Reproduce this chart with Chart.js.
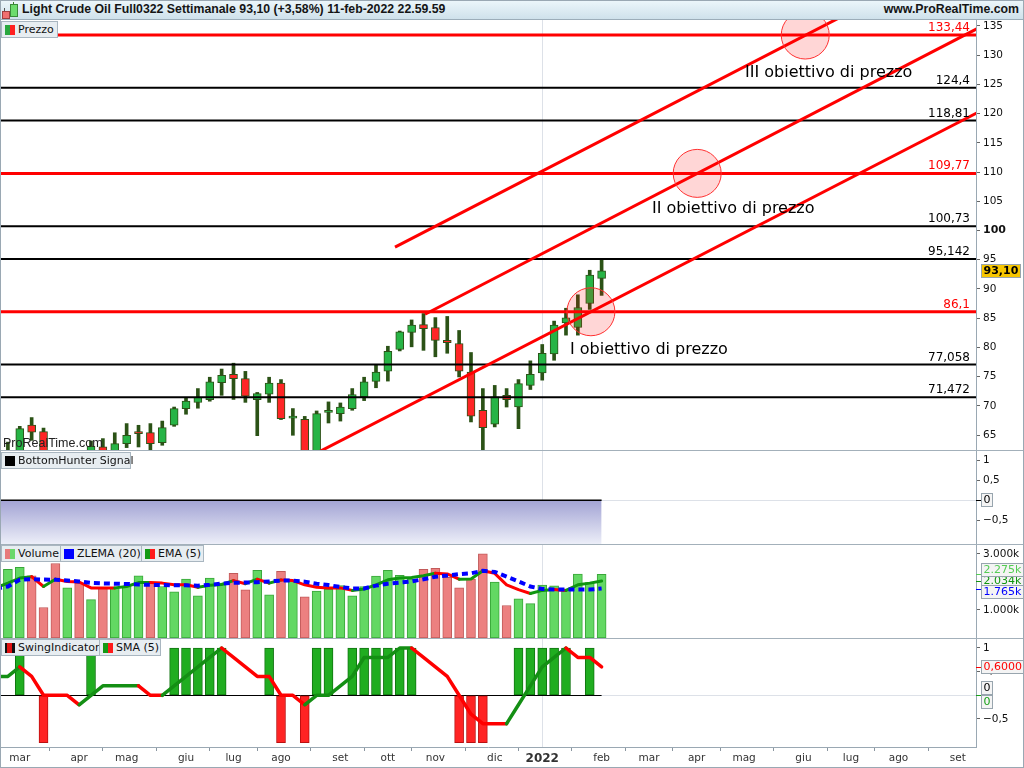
<!DOCTYPE html>
<html>
<head>
<meta charset="utf-8">
<script src="https://cdn.jsdelivr.net/npm/chart.js@4.4.1/dist/chart.umd.min.js"></script>
<style>
html,body{margin:0;padding:0;background:#fff;}
#wrap{position:relative;width:1024px;height:768px;overflow:hidden;font-family:"DejaVu Sans",sans-serif;color:#111;}
#wrap canvas{position:absolute;left:0;}
.hdr{position:absolute;left:0;top:0;width:1024px;height:20px;background:linear-gradient(#edf7fb,#cfe1eb);border-bottom:1px solid #9cadb9;box-sizing:border-box;}
.title{position:absolute;left:22px;top:2px;font-family:"Liberation Sans",sans-serif;font-weight:bold;font-size:12.3px;white-space:nowrap;color:#151515;}
.site{position:absolute;right:5px;top:2px;font-family:"Liberation Sans",sans-serif;font-weight:bold;font-size:12.3px;white-space:nowrap;color:#151515;}
.leg{position:absolute;height:17px;box-sizing:border-box;background:#e7edf1;border:1px solid #a9b6c0;font-size:11px;line-height:15px;white-space:nowrap;padding-left:16px;}
.ico{position:absolute;left:3px;top:3px;width:10px;height:10px;box-sizing:border-box;}
.sep{position:absolute;left:0;width:1024px;height:1px;background:#a3b0ba;}
.wm{position:absolute;left:3px;top:436px;font-family:"Liberation Sans",sans-serif;font-size:12.5px;color:#222;}
.frame{position:absolute;left:0;top:0;width:1024px;height:768px;box-sizing:border-box;border:1px solid #9aa8b3;pointer-events:none;}
</style>
</head>
<body>
<div id="wrap">
  <canvas id="cP" width="1024" height="431" style="top:20px"></canvas>
  <canvas id="cB" width="1024" height="93" style="top:451px"></canvas>
  <canvas id="cV" width="1024" height="94" style="top:544px"></canvas>
  <canvas id="cS" width="1024" height="130" style="top:638px"></canvas>

  <div class="hdr">
    <div style="position:absolute;left:4px;top:8px;width:1px;height:11px;background:#555"></div>
    <div style="position:absolute;left:2px;top:11px;width:6px;height:6px;background:#f07070;border:1px solid #a04040"></div>
    <div style="position:absolute;left:13px;top:2px;width:1px;height:15px;background:#3a7a2a"></div>
    <div style="position:absolute;left:10px;top:4px;width:6px;height:11px;background:#6ddc6d;border:1px solid #3a8a3a"></div>
    <div class="title">Light Crude Oil Full0322 Settimanale 93,10 (+3,58%) 11-feb-2022 22.59.59</div>
    <div class="site">www.ProRealTime.com</div>
  </div>

  <div class="sep" style="top:450px"></div>
  <div class="sep" style="top:544px"></div>
  <div class="sep" style="top:638px"></div>

  <div class="leg" style="left:1px;top:21px;width:57px;"><div class="ico" style="background:linear-gradient(90deg,#2aa83f 50%,#ff2020 50%);"></div>Prezzo</div>
  <div class="leg" style="left:1px;top:452px;width:130px;"><div class="ico" style="background:#000;"></div>BottomHunter Signal</div>
  <div class="leg" style="left:1px;top:545px;width:60px;"><div class="ico" style="background:linear-gradient(90deg,#e77b7b 50%,#6bd86b 50%);"></div>Volume</div>
  <div class="leg" style="left:60px;top:545px;width:82px;"><div class="ico" style="background:#0000ff;"></div>ZLEMA (20)</div>
  <div class="leg" style="left:141px;top:545px;width:63px;"><div class="ico" style="background:linear-gradient(90deg,#139a13 50%,#ff1a1a 50%);"></div>EMA (5)</div>
  <div class="leg" style="left:1px;top:639px;width:99px;"><div class="ico" style="background:linear-gradient(90deg,#111 25%,#e01010 25%,#e01010 75%,#111 75%);"></div>SwingIndicator</div>
  <div class="leg" style="left:99px;top:639px;width:62px;"><div class="ico" style="background:linear-gradient(90deg,#139a13 50%,#ff1a1a 50%);"></div>SMA (5)</div>

  <div class="wm">ProRealTime.com</div>
  <div class="frame"></div>
</div>

<script>
// ---------- DATA ----------
const weeks = ['2021-02-15','2021-02-22','2021-03-01','2021-03-08','2021-03-15','2021-03-22','2021-03-29',
 '2021-04-05','2021-04-12','2021-04-19','2021-04-26','2021-05-03','2021-05-10','2021-05-17','2021-05-24','2021-05-31',
 '2021-06-07','2021-06-14','2021-06-21','2021-06-28','2021-07-05','2021-07-12','2021-07-19','2021-07-26',
 '2021-08-02','2021-08-09','2021-08-16','2021-08-23','2021-08-30','2021-09-06','2021-09-13','2021-09-20','2021-09-27',
 '2021-10-04','2021-10-11','2021-10-18','2021-10-25','2021-11-01','2021-11-08','2021-11-15','2021-11-22','2021-11-29',
 '2021-12-06','2021-12-13','2021-12-20','2021-12-27','2022-01-03','2022-01-10','2022-01-17','2022-01-24','2022-01-31','2022-02-07'];

const openP  = [59.5,59.3,61.6,66.7,65.6,61.4,60.9,61.4,59.4,63.0,62.0,63.55,65.6,65.43,63.72,66.68,69.54,70.57,71.08,73.99,75.4,74.67,71.08,72.0,73.92,67.9,67.7,62.2,68.9,68.68,69.54,71.53,74.2,75.93,79.64,82.55,83.9,83.4,81.2,80.67,75.8,69.25,66.86,71.82,69.8,73.5,75.63,78.9,84.2,83.4,87.51,91.8];
const highP  = [62.3,63.8,66.5,68.0,66.2,62.0,62.3,61.9,64.0,64.4,65.4,66.97,66.68,66.97,67.4,69.8,71.42,72.96,74.9,76.3,77.3,75.9,72.3,74.9,74.5,69.54,68.2,69.13,70.68,70.5,72.96,74.9,77.1,80.2,82.8,84.7,85.8,85.1,85.3,82.9,79.13,72.96,73.5,72.96,74.5,77.7,80.5,84.5,86.7,89.0,93.2,95.0];
const lowP   = [58.6,58.7,59.6,64.1,59.8,57.3,58.9,57.6,59.2,61.2,61.6,62.86,62.97,62.4,63.26,66.5,68.57,69.6,70.8,71.8,71.1,70.6,64.9,70.6,67.66,64.97,61.7,61.9,67.07,67.4,69.25,70.9,73.1,74.24,79.4,80.1,79.5,78.4,79.0,74.95,67.25,62.4,66.4,69.8,66.1,72.8,74.4,77.8,82.1,82.1,86.5,88.9];
const closeP = [59.2,61.5,66.1,65.5,61.4,61.0,61.45,59.3,63.1,62.1,63.55,64.97,65.26,63.55,66.29,69.54,70.84,71.47,74.1,75.24,74.67,71.65,72.1,73.92,67.83,68.0,62.3,68.68,69.2,69.8,71.94,74.1,75.8,79.35,82.65,83.8,83.2,81.2,80.8,75.93,68.22,66.29,71.53,71.08,73.8,75.4,79.0,83.8,85.05,86.83,92.36,93.1];

// volume in thousands (k)
const volume = [2000,2450,2520,2220,1090,2660,1790,1960,1370,1790,1790,1840,2220,1960,1840,1650,2100,1510,2140,1960,2310,1720,2420,1540,2380,2020,1470,1680,1750,1870,1510,1840,2210,2420,2240,2100,2450,2490,2170,1790,2100,3010,2000,1160,1400,1230,1890,1860,1750,2280,1980,2275];
const volumeDir = [-1,1,1,-1,-1,-1,1,-1,1,-1,1,1,1,-1,1,1,1,1,1,1,-1,-1,1,1,-1,1,-1,1,1,1,1,1,1,1,1,1,-1,-1,-1,-1,-1,-1,1,-1,1,1,1,1,1,1,1,1];
const ema5  = [1800,1960,2140,2190,1840,2100,2020,2000,1790,1790,1790,1840,1980,1980,1960,1900,1900,1810,1880,1910,2050,1940,2100,1960,2070,2050,1900,1810,1790,1790,1700,1750,1900,2080,2140,2160,2220,2310,2290,2100,2110,2400,2310,1900,1730,1590,1700,1730,1700,1900,1960,2034];
const zlema20 = [1760,1840,2080,2100,2090,2080,2050,2020,1970,1950,1940,1930,1910,1900,1890,1880,1880,1870,1900,1940,1970,1980,1990,2020,2050,2050,2010,1940,1890,1820,1770,1770,1870,1940,1980,2020,2100,2190,2230,2280,2310,2400,2360,2190,2020,1840,1750,1730,1730,1730,1730,1765];

const bottomHunter = [0,0,0,0,0,0,0,0,0,0,0,0,0,0,0,0,0,0,0,0,0,0,0,0,0,0,0,0,0,0,0,0,0,0,0,0,0,0,0,0,0,0,0,0,0,0,0,0,0,0,0,0];

const swing    = [0,0,1,0,-1,0,0,0,1,0,0,0,0,0,0,1,1,1,1,1,0,0,0,1,-1,0,-1,1,1,0,1,1,1,1,1,1,0,0,0,-1,-1,-1,0,0,1,1,1,1,1,0,1,0];
const swingSma = [0.4,0.4,0.6,0.4,0,0,0,-0.2,0,0.2,0.2,0.2,0.2,0,0,0.2,0.4,0.6,0.8,1.0,0.8,0.6,0.4,0.4,0,0,-0.2,0,0,0.2,0.4,0.8,0.8,0.8,1.0,1.0,0.8,0.6,0.4,0,-0.4,-0.6,-0.6,-0.6,-0.2,0.2,0.6,0.8,1.0,0.8,0.8,0.6];

const monthTickDates  = ['2021-03-01','2021-04-05','2021-05-03','2021-06-07','2021-07-05','2021-08-02','2021-09-06','2021-10-04','2021-11-01','2021-12-06','2022-01-03','2022-02-07','2022-03-07','2022-04-04','2022-05-02','2022-06-06','2022-07-04','2022-08-01','2022-09-05'];
const monthTickLabels = ['mar','apr','mag','giu','lug','ago','set','ott','nov','dic','2022','feb','mar','apr','mag','giu','lug','ago','set'];
const yearSeparator = '2022-01-03';

const priceTicks = [65,70,75,80,85,90,95,100,105,110,115,120,125,130,135];
const levelValues = [133.44,124.4,118.81,109.77,100.73,95.142,86.1,77.058,71.472];
const levelLabels = ['133,44','124,4','118,81','109,77','100,73','95,142','86,1','77,058','71,472'];
const levelIsTarget = [true,false,false,true,false,false,true,false,false];

// trend channel lines: [weekIndex, price] pairs
const trendLines = [
  [[33.6, 97.15],[71.5, 136.9]],
  [[36.13, 85.68],[82.6, 134.5]],
  [[26.5, 61.4],[82.6, 120.1]]
];
// price targets: circle centres [weekIndex, price] and captions
const targetCircles = [[50.1, 86.1],[59.05, 109.77],[68.15, 133.44]];
const targetTexts = [
  {w:48.34, p:79.5, t:'I obiettivo di prezzo'},
  {w:55.24, p:103.66, t:'II obiettivo di prezzo'},
  {w:63.08, p:126.94, t:'III obiettivo di prezzo'}
];

// ---------- HELPERS ----------
const DAY = 864e5;
const t0 = Date.parse(weeks[0]);
const dateX = d => (Date.parse(d) - t0) / (7*DAY);
const X_MIN = 0.335, X_MAX = 82.53;
const FONT = '"DejaVu Sans", sans-serif';
Chart.defaults.font.family = FONT;
Chart.defaults.font.size = 10.5;
Chart.defaults.color = '#111';
const last = weeks.length - 1;
const fmtComma = (v, d) => v.toFixed(d).replace('.', ',');
const fmtK = v => { const s = String(Math.round(v)); return (s.length > 3 ? s.slice(0,-3) + '.' + s.slice(-3) : s) + 'k'; };
const fmtTick = v => String(v).replace('.', ',').replace('-', '\u2212');

function trendColors(vals, up, down) {
  const cols = []; let cur = up;
  for (let i = 0; i < vals.length - 1; i++) {
    if (vals[i+1] > vals[i] + 1e-9) cur = up; else if (vals[i+1] < vals[i] - 1e-9) cur = down;
    cols.push(cur);
  }
  return cols;
}

function xAxis(show) {
  return {
    type: 'linear', min: X_MIN, max: X_MAX, offset: false, display: show,
    grid: {display: true, drawOnChartArea: false, drawTicks: true, tickLength: 4, color: '#8a96a0'},
    border: {display: true, color: '#9aa8b3'},
    afterBuildTicks: s => { s.ticks = monthTickDates.map(d => ({value: dateX(d)})); },
    ticks: {
      autoSkip: false, maxRotation: 0, minRotation: 0, padding: 1, color: '#333',
      callback: (v, i) => monthTickLabels[i],
      font: c => (monthTickLabels[c.index] === '2022') ? {size: 12, weight: 'bold', family: FONT} : {size: 10.5, family: FONT}
    },
    afterFit: s => { s.height = show ? 21 : 0; s.paddingLeft = 0; s.paddingRight = 0; }
  };
}

function yAxis(min, max, tickVals, fmt, fontFn) {
  return {
    position: 'right', min, max,
    grid: {display: true, drawOnChartArea: false, drawTicks: true, tickLength: 4, color: '#666'},
    border: {display: true, color: '#9aa8b3'},
    afterBuildTicks: s => { s.ticks = tickVals.map(v => ({value: v})); },
    ticks: {padding: 3, color: '#111', callback: v => fmt(v), font: fontFn || {size: 10.5, family: FONT}},
    afterFit: s => { s.width = 48; s.paddingTop = 0; s.paddingBottom = 0; }
  };
}

function baseOptions(xShow, yCfg) {
  return {
    responsive: false, maintainAspectRatio: false, animation: false, devicePixelRatio: 1,
    layout: {padding: 0},
    plugins: {legend: {display: false}, tooltip: {enabled: false}},
    scales: {x: xAxis(xShow), y: yCfg}
  };
}

function drawBox(ctx, x, yc, text, color, bg, bold) {
  ctx.save();
  ctx.font = (bold ? 'bold ' : '') + '11px ' + FONT;
  const w = Math.ceil(ctx.measureText(text).width) + 5;
  ctx.fillStyle = bg; ctx.fillRect(x, yc - 7, w, 14);
  ctx.strokeStyle = '#98a5ae'; ctx.lineWidth = 1; ctx.strokeRect(x + 0.5, yc - 6.5, w - 1, 13);
  ctx.fillStyle = color; ctx.textBaseline = 'middle'; ctx.textAlign = 'left';
  ctx.fillText(text, x + 2.5, yc + 0.5);
  ctx.restore();
}

function sepLines(chart, zeroGray) {
  const {ctx, chartArea: a, scales: {x, y}} = chart;
  ctx.save();
  ctx.strokeStyle = '#dde1e8'; ctx.lineWidth = 1;
  const sx = Math.round(x.getPixelForValue(dateX(yearSeparator))) + 0.5;
  ctx.beginPath(); ctx.moveTo(sx, a.top); ctx.lineTo(sx, a.bottom); ctx.stroke();
  if (zeroGray) {
    const zy = Math.round(y.getPixelForValue(0)) + 0.5;
    ctx.beginPath(); ctx.moveTo(a.left, zy); ctx.lineTo(a.right, zy); ctx.stroke();
  }
  ctx.restore();
}

function boxesPlugin(id, listFn) {
  return {
    id,
    afterDraw(chart) {
      const {ctx, chartArea: a, scales: {y}} = chart;
      listFn().forEach(b => {
        const yc = Math.round(y.getPixelForValue(b.v)) + (b.dy || 0);
        if (b.tick) {
          ctx.save(); ctx.strokeStyle = b.tick; ctx.lineWidth = 1;
          const ty = Math.round(y.getPixelForValue(b.v)) + 0.5;
          ctx.beginPath(); ctx.moveTo(a.right, ty); ctx.lineTo(a.right + 5, ty); ctx.stroke(); ctx.restore();
        }
        drawBox(ctx, a.right + 5, yc, b.text, b.color, b.bg || '#f4f4f4', b.bold);
      });
    }
  };
}

// ---------- PRICE ----------
const priceDecor = {
  id: 'priceDecor',
  beforeDatasetsDraw(chart) { sepLines(chart, false); },
  afterDatasetsDraw(chart) {
    const {ctx, chartArea: a, scales: {x, y}} = chart;
    ctx.save();
    ctx.beginPath(); ctx.rect(a.left, a.top, a.right - a.left, a.bottom - a.top); ctx.clip();
    levelValues.forEach((v, i) => {
      const py = y.getPixelForValue(v);
      ctx.strokeStyle = levelIsTarget[i] ? '#ff0000' : '#000000';
      ctx.lineWidth = levelIsTarget[i] ? 3 : 2;
      ctx.beginPath(); ctx.moveTo(a.left, py); ctx.lineTo(a.right, py); ctx.stroke();
    });
    ctx.strokeStyle = '#ff0000'; ctx.lineWidth = 3; ctx.lineCap = 'butt';
    trendLines.forEach(([p, q]) => {
      ctx.beginPath();
      ctx.moveTo(x.getPixelForValue(p[0]), y.getPixelForValue(p[1]));
      ctx.lineTo(x.getPixelForValue(q[0]), y.getPixelForValue(q[1]));
      ctx.stroke();
    });
    targetCircles.forEach(c => {
      ctx.beginPath();
      ctx.arc(x.getPixelForValue(c[0]), y.getPixelForValue(c[1]), 24, 0, Math.PI * 2);
      ctx.fillStyle = 'rgba(255,0,0,0.16)'; ctx.fill();
      ctx.strokeStyle = '#ff3030'; ctx.lineWidth = 1; ctx.stroke();
    });
    ctx.font = '16px ' + FONT; ctx.fillStyle = '#000'; ctx.textBaseline = 'middle'; ctx.textAlign = 'left';
    targetTexts.forEach(t => ctx.fillText(t.t, x.getPixelForValue(t.w), y.getPixelForValue(t.p)));
    ctx.font = '12px ' + FONT; ctx.textAlign = 'right'; ctx.textBaseline = 'alphabetic';
    levelValues.forEach((v, i) => {
      ctx.fillStyle = levelIsTarget[i] ? '#ff0000' : '#000';
      ctx.fillText(levelLabels[i], a.right - 6, y.getPixelForValue(v) - 4);
    });
    ctx.restore();
  }
};

new Chart(document.getElementById('cP'), {
  type: 'bar',
  data: {datasets: [
    {label: 'wick', data: weeks.map((w, i) => ({x: i, y: [lowP[i], highP[i]]})),
     backgroundColor: '#2b5216', barThickness: 3, grouped: false, order: 2},
    {label: 'Prezzo', data: weeks.map((w, i) => ({x: i, y: [openP[i], closeP[i]]})),
     backgroundColor: c => closeP[c.dataIndex] >= openP[c.dataIndex] ? '#27b446' : '#ff2626',
     borderColor: '#2b5216', borderWidth: 1, borderSkipped: false, barThickness: 8, minBarLength: 2, grouped: false, order: 1}
  ]},
  options: baseOptions(false, yAxis(62.28, 136.01, priceTicks, v => String(v),
    c => (c.tick && c.tick.value === 100) ? {size: 11, weight: 'bold', family: FONT} : {size: 10.5, family: FONT})),
  plugins: [priceDecor, boxesPlugin('pBox', () => [
    {v: closeP[last], text: fmtComma(closeP[last], 2), color: '#000', bg: '#f7c600', bold: true}
  ])]
});

// ---------- BOTTOM HUNTER ----------
new Chart(document.getElementById('cB'), {
  type: 'line',
  data: {datasets: [{
    label: 'BottomHunter Signal', data: weeks.map((w, i) => ({x: i, y: bottomHunter[i]})),
    borderColor: '#000', borderWidth: 1.5, pointRadius: 0, fill: 'start',
    backgroundColor: c => {
      const ch = c.chart, a = ch.chartArea; if (!a) return '#b8b8e0';
      const y0 = ch.scales.y.getPixelForValue(0);
      const g = ch.ctx.createLinearGradient(0, y0, 0, a.bottom);
      g.addColorStop(0, '#a2a3d4'); g.addColorStop(1, '#eceef8'); return g;
    }
  }]},
  options: baseOptions(false, yAxis(-1.0925, 1.2325, [1, 0.5, 0, -0.5], fmtTick)),
  plugins: [{id: 'bSep', beforeDatasetsDraw: ch => sepLines(ch, true)},
    boxesPlugin('bBox', () => [{v: bottomHunter[last], text: fmtTick(bottomHunter[last]), color: '#000', tick: '#000'}])]
});

// ---------- VOLUME ----------
const emaCols = trendColors(ema5, '#0f960f', '#ff0000');
new Chart(document.getElementById('cV'), {
  type: 'bar',
  data: {datasets: [
    {type: 'line', label: 'ZLEMA (20)', data: weeks.map((w, i) => ({x: i, y: zlema20[i]})),
     borderColor: '#0000ff', borderWidth: 4, borderDash: [6, 4], pointRadius: 0, order: 1},
    {type: 'line', label: 'EMA (5)', data: weeks.map((w, i) => ({x: i, y: ema5[i]})),
     borderWidth: 3, pointRadius: 0, borderJoinStyle: 'round', borderCapStyle: 'round',
     segment: {borderColor: c => emaCols[c.p0DataIndex]}, borderColor: '#0f960f', order: 2},
    {label: 'Volume', data: weeks.map((w, i) => ({x: i, y: volume[i]})),
     backgroundColor: c => volumeDir[c.dataIndex] > 0 ? '#63d863' : '#ec8080',
     borderColor: c => volumeDir[c.dataIndex] > 0 ? '#39a639' : '#c25a5a',
     borderWidth: 1, borderSkipped: false, barThickness: 9, grouped: false, order: 3}
  ]},
  options: baseOptions(false, yAxis(0, 3357, [1000, 3000], fmtK)),
  plugins: [{id: 'vSep', beforeDatasetsDraw: ch => sepLines(ch, false)},
    boxesPlugin('vBox', () => [
      {v: ema5[last], text: fmtK(ema5[last]), color: '#0f960f', tick: '#0f960f'},
      {v: volume[last], text: fmtK(volume[last]), color: '#55cc55', tick: '#55cc55', dy: -4},
      {v: zlema20[last], text: fmtK(zlema20[last]), color: '#0000ff', tick: '#0000ff', dy: 3}
    ])]
});

// ---------- SWING ----------
const smaCols = trendColors(swingSma, '#148f14', '#ff0000');
const swingZeroLine = {
  id: 'swingZero',
  beforeDatasetsDraw(chart) {
    sepLines(chart, true);
    const {ctx, scales: {x, y}} = chart;
    const zy = Math.round(y.getPixelForValue(0)) + 0.5;
    ctx.save(); ctx.strokeStyle = '#000'; ctx.lineWidth = 1;
    ctx.beginPath(); ctx.moveTo(Math.max(chart.chartArea.left, x.getPixelForValue(0)), zy);
    ctx.lineTo(x.getPixelForValue(last), zy); ctx.stroke(); ctx.restore();
  }
};
new Chart(document.getElementById('cS'), {
  type: 'bar',
  data: {datasets: [
    {type: 'line', label: 'SMA (5)', data: weeks.map((w, i) => ({x: i, y: swingSma[i]})),
     borderWidth: 3.5, pointRadius: 0, borderJoinStyle: 'round', borderCapStyle: 'round',
     segment: {borderColor: c => smaCols[c.p0DataIndex]}, borderColor: '#148f14', order: 1},
    {label: 'SwingIndicator', data: weeks.map((w, i) => ({x: i, y: swing[i]})),
     backgroundColor: c => swing[c.dataIndex] > 0 ? '#20ad20' : '#ff2424',
     borderColor: c => swing[c.dataIndex] > 0 ? '#117511' : '#bb1010',
     borderWidth: 1, borderSkipped: false, barThickness: 9, grouped: false, order: 2}
  ]},
  options: baseOptions(true, yAxis(-1.093, 1.2114, [1, 0.5, 0, -0.5], fmtTick)),
  plugins: [swingZeroLine, boxesPlugin('sBox', () => [
    {v: swing[last], text: fmtTick(swing[last]), color: '#000', dy: -7},
    {v: swing[last], text: fmtTick(swing[last]), color: '#17a017', tick: '#17a017', dy: 7},
    {v: swingSma[last], text: fmtComma(swingSma[last], 4), color: '#ff0000', tick: '#ff0000'}
  ])]
});
</script>
</body>
</html>
